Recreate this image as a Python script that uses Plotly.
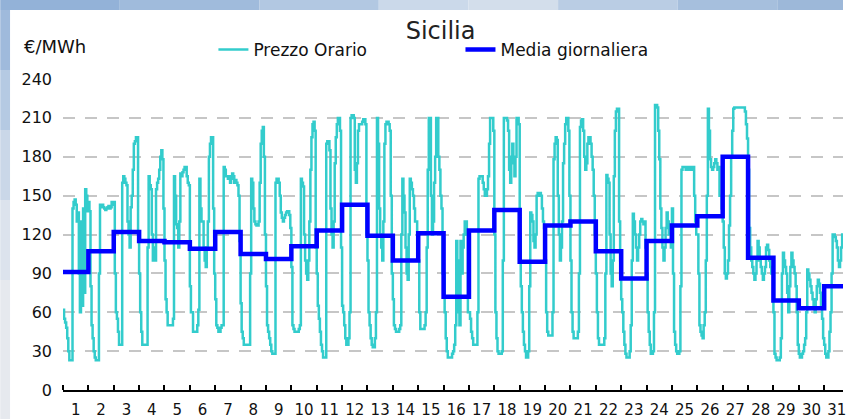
import plotly.graph_objects as go

# ---------------- data ----------------
giorni = [str(d) for d in range(1, 32)]
y_ticks = [0, 30, 60, 90, 120, 150, 180, 210, 240]

# hourly prices, one list per day (hours 0..23)
g01 = [62, 55, 52, 48, 40, 30, 23, 23, 23, 140, 145, 147, 143, 130, 137, 90, 60, 130, 65, 140, 75, 155, 150, 138]
g02 = [145, 138, 80, 50, 40, 30, 25, 23, 23, 23, 90, 143, 141, 143, 141, 140, 139, 140, 141, 142, 140, 141, 145, 143]
g03 = [145, 90, 60, 55, 45, 35, 35, 35, 160, 165, 163, 160, 158, 130, 120, 110, 141, 150, 170, 190, 192, 195, 195, 120]
g04 = [90, 60, 45, 35, 35, 35, 35, 35, 110, 165, 158, 155, 120, 100, 110, 100, 155, 160, 163, 170, 180, 185, 178, 140]
g05 = [100, 70, 60, 50, 50, 50, 50, 50, 55, 165, 150, 128, 125, 110, 130, 167, 165, 168, 170, 172, 172, 165, 160, 158]
g06 = [80, 60, 60, 45, 45, 45, 45, 50, 62, 163, 140, 130, 130, 110, 100, 95, 110, 130, 180, 190, 195, 195, 140, 90]
g07 = [70, 50, 48, 45, 45, 48, 50, 50, 172, 170, 165, 165, 163, 165, 160, 163, 167, 165, 160, 162, 160, 158, 150, 115]
g08 = [67, 45, 40, 35, 35, 35, 35, 35, 35, 90, 163, 160, 140, 130, 128, 127, 127, 130, 160, 190, 200, 203, 180, 120]
g09 = [80, 50, 45, 40, 35, 30, 28, 28, 28, 160, 163, 163, 160, 150, 137, 133, 130, 133, 135, 137, 138, 138, 135, 125]
g10 = [95, 50, 47, 45, 45, 45, 45, 47, 50, 163, 160, 157, 120, 100, 90, 85, 100, 130, 170, 195, 205, 207, 200, 110]
g11 = [90, 65, 55, 45, 35, 30, 25, 25, 25, 190, 192, 192, 185, 140, 120, 110, 130, 175, 195, 205, 210, 210, 200, 110]
g12 = [65, 60, 50, 40, 35, 35, 40, 60, 210, 212, 212, 210, 170, 160, 175, 200, 205, 205, 205, 207, 209, 209, 205, 120]
g13 = [100, 60, 50, 40, 35, 33, 33, 40, 60, 210, 190, 140, 120, 110, 100, 130, 190, 205, 207, 207, 205, 200, 150, 90]
g14 = [70, 50, 47, 45, 45, 45, 47, 50, 120, 163, 150, 137, 110, 90, 85, 120, 163, 160, 155, 150, 140, 130, 130, 120]
g15 = [100, 60, 47, 47, 47, 47, 50, 60, 110, 170, 210, 210, 150, 120, 130, 160, 180, 210, 210, 180, 170, 150, 140, 90]
g16 = [90, 60, 40, 30, 25, 25, 25, 25, 28, 30, 35, 50, 115, 60, 100, 50, 115, 90, 110, 120, 130, 130, 120, 60]
g17 = [60, 55, 45, 40, 35, 35, 35, 35, 60, 163, 165, 165, 165, 160, 155, 150, 150, 155, 165, 190, 210, 210, 210, 200]
g18 = [120, 60, 40, 30, 28, 28, 28, 30, 100, 210, 210, 210, 208, 200, 170, 160, 180, 190, 175, 165, 180, 210, 210, 205]
g19 = [120, 80, 60, 45, 35, 30, 25, 25, 30, 80, 137, 135, 130, 115, 110, 120, 150, 152, 150, 152, 150, 140, 130, 125]
g20 = [100, 60, 45, 42, 42, 42, 42, 60, 178, 190, 195, 193, 150, 120, 100, 110, 130, 175, 190, 205, 210, 210, 200, 150]
g21 = [100, 60, 45, 40, 40, 40, 40, 45, 90, 203, 208, 209, 200, 180, 170, 175, 190, 195, 195, 190, 180, 170, 150, 120]
g22 = [90, 60, 40, 35, 35, 35, 35, 35, 40, 90, 166, 163, 160, 120, 90, 80, 100, 165, 200, 215, 217, 217, 130, 100]
g23 = [70, 60, 45, 35, 28, 25, 25, 25, 30, 50, 100, 136, 130, 120, 110, 100, 110, 120, 130, 132, 130, 128, 130, 110]
g24 = [90, 60, 45, 35, 28, 28, 30, 60, 220, 220, 218, 200, 178, 140, 125, 110, 100, 110, 125, 137, 130, 120, 125, 110]
g25 = [140, 90, 45, 35, 30, 28, 28, 30, 80, 170, 172, 172, 172, 170, 170, 172, 172, 170, 172, 170, 172, 150, 130, 120]
g26 = [120, 90, 50, 45, 42, 40, 50, 60, 100, 150, 217, 200, 178, 172, 170, 172, 175, 178, 175, 170, 172, 150, 150, 140]
g27 = [130, 110, 90, 86, 90, 100, 127, 150, 180, 200, 217, 218, 218, 218, 218, 218, 218, 218, 218, 218, 218, 215, 205, 194]
g28 = [170, 125, 110, 100, 95, 90, 85, 90, 100, 115, 110, 100, 95, 90, 85, 90, 95, 110, 112, 108, 100, 95, 90, 95]
g29 = [60, 28, 25, 23, 23, 23, 25, 40, 90, 106, 100, 95, 90, 75, 60, 80, 95, 106, 100, 95, 90, 80, 60, 35]
g30 = [28, 25, 25, 28, 30, 35, 40, 60, 93, 90, 85, 80, 75, 70, 65, 60, 70, 80, 85, 82, 75, 65, 55, 40]
g31 = [35, 28, 25, 25, 30, 45, 60, 90, 120, 120, 118, 115, 110, 100, 95, 100, 110, 120, 115, 110, 100, 90, 80, 70]

# daily average (blue step line)
media_giornaliera = [91, 107, 122, 115, 114, 109, 122, 105, 101, 111, 123, 143, 119, 100, 121, 72,
                     123, 139, 99, 127, 130, 107, 86, 115, 127, 134, 180, 102, 69, 63, 80]

prezzo_orario = (g01 + g02 + g03 + g04 + g05 + g06 + g07 + g08 + g09 + g10 + g11 + g12 + g13 + g14 + g15 +
                 g16 + g17 + g18 + g19 + g20 + g21 + g22 + g23 + g24 + g25 + g26 + g27 + g28 + g29 + g30 + g31)

# ---------------- build x positions (in days) ----------------
x_ore = [i / 24 for i in range(len(prezzo_orario))] + [len(prezzo_orario) / 24]
y_ore = prezzo_orario + [prezzo_orario[-1]]
x_media = list(range(len(media_giornaliera))) + [len(media_giornaliera)]
y_media = media_giornaliera + [media_giornaliera[-1]]

FONT = "DejaVu Sans"
W, H = 846, 419
ML, MR, MT, MB = 63, 0, 79, 29
PW, PH = W - ML - MR, H - MT - MB
DAY_PX = 25.47


def px_x(p):
    return (p - ML) / PW


def px_y(p):
    return (H - MB - p) / PH


def bg_rect(x0, y0, x1, y1, color):
    return dict(type="rect", xref="paper", yref="paper",
                x0=px_x(x0), x1=px_x(x1), y0=px_y(y1), y1=px_y(y0),
                fillcolor=color, line=dict(width=0), layer="below")


# sky-coloured border round the white panel (decoration)
top_strip = [(0, 120, "#93b2d8"), (120, 260, "#a0bbdc"), (260, 380, "#b2c8e2"),
             (380, 470, "#cbd9ea"), (470, 560, "#d3deeb"), (560, 680, "#bacde4"),
             (680, 780, "#a6bfdd"), (780, 846, "#9db8d9")]
left_strip = [(10, 70, "#9fbadc"), (70, 130, "#b5cae3"), (130, 200, "#cad7e8"),
              (200, 280, "#dce3ed"), (280, 419, "#e6e9ee")]
shapes = [bg_rect(x0, 0, x1, 10, c) for x0, x1, c in top_strip]
shapes += [bg_rect(0, y0, 10, y1, c) for y0, y1, c in left_strip]
shapes.append(bg_rect(10, 10, W, H, "#ffffff"))

fig = go.Figure()
fig.add_trace(go.Scatter(
    x=x_ore, y=y_ore, mode="lines", name="Prezzo Orario", showlegend=True,
    line=dict(color="#33cccc", width=2.5, shape="hv"), legend="legend",
))
fig.add_trace(go.Scatter(
    x=x_media, y=y_media, mode="lines", name="Media giornaliera", showlegend=True,
    line=dict(color="#0000ff", width=4.5, shape="hv"), legend="legend2",
))

fig.update_layout(
    width=W, height=H, showlegend=True,
    margin=dict(l=ML, r=MR, t=MT, b=MB, pad=0),
    paper_bgcolor="#ffffff", plot_bgcolor="rgba(0,0,0,0)",
    font=dict(family=FONT, color="#111111"),
    title=dict(text="Sicilia", x=px_x(442), xref="paper", xanchor="center",
               y=1 - 31 / H, yref="container", yanchor="middle",
               font=dict(size=24, family=FONT, color="#222222")),
    shapes=shapes,
    legend=dict(orientation="h", x=px_x(214), xanchor="left", y=1 - 50 / H, yref="container",
                yanchor="middle", bgcolor="rgba(0,0,0,0)", font=dict(size=17, family=FONT)),
    legend2=dict(orientation="h", x=px_x(462), xanchor="left", y=1 - 50 / H, yref="container",
                 yanchor="middle", bgcolor="rgba(0,0,0,0)", font=dict(size=17, family=FONT)),
    annotations=[dict(text="€/MWh", x=px_x(22), y=px_y(47), xref="paper", yref="paper",
                      xanchor="left", yanchor="middle", showarrow=False,
                      font=dict(size=18, family=FONT, color="#111111"))],
)

fig.update_xaxes(
    range=[0, PW / DAY_PX],
    tickmode="array", tickvals=[i + 0.5 for i in range(len(giorni))], ticktext=giorni,
    ticks="", showgrid=False, zeroline=False, ticklabeloverflow="allow",
    showline=True, linecolor="#000000", linewidth=1.5,
    tickfont=dict(size=15, family=FONT, color="#111111"), ticklabelstandoff=5,
    minor=dict(tickmode="linear", tick0=0, dtick=1, ticks="inside", ticklen=5,
               tickcolor="#000000", tickwidth=1.5, showgrid=False),
)
fig.update_yaxes(
    range=[0, 240], tickmode="array", tickvals=y_ticks,
    ticks="", showline=False, zeroline=False,
    showgrid=True, gridcolor="#c6c6c6", gridwidth=1.6, griddash="12px,10px",
    tickfont=dict(size=16, family=FONT, color="#111111"), ticklabelstandoff=10,
)

fig.write_html(
    "out.html",
    config={"displayModeBar": False},
    post_script="document.body.style.margin='0';document.body.style.overflow='hidden';",
)
